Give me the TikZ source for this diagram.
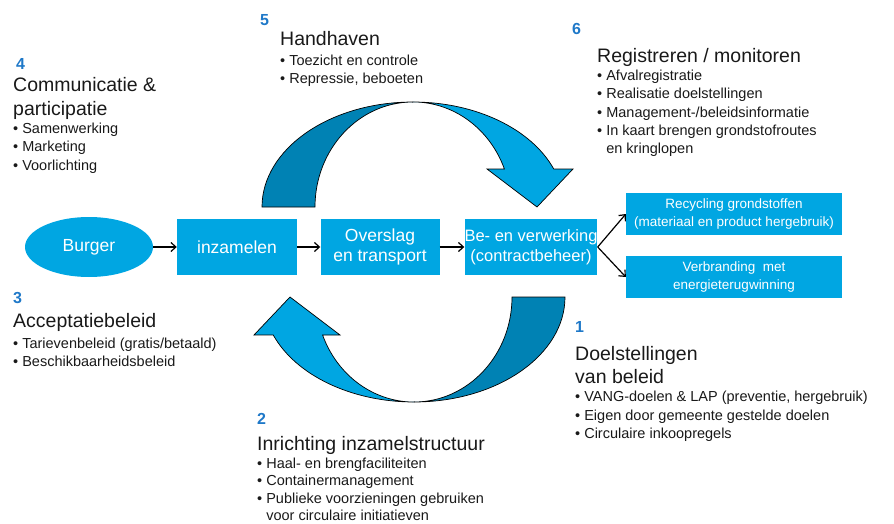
\documentclass[tikz,border=0pt]{standalone}
\usepackage{fontspec}
\setmainfont{Liberation Sans}
\usetikzlibrary{shapes.geometric,arrows.meta}

\definecolor{flowblue}{RGB}{0,166,226}
\definecolor{darkblue}{RGB}{0,130,180}
\definecolor{numblue}{RGB}{30,120,200}
\definecolor{textgray}{RGB}{25,25,25}

\newcommand{\headfont}{\fontsize{19.5}{23}\selectfont}
\newcommand{\listfont}{\fontsize{14.5}{18.3}\selectfont}

\tikzset{
    procbox/.style={fill=flowblue, text=white, inner sep=0pt, minimum height=56pt,
        align=center, font=\fontsize{17.5}{20}\selectfont},
    resultbox/.style={fill=flowblue, text=white, inner sep=0pt, minimum width=216pt,
        minimum height=42pt, align=center, font=\fontsize{13.5}{18}\selectfont},
    flowarrow/.style={-{Straight Barb[length=5pt,width=9pt]}, line width=1.2pt},
    stepnum/.style={anchor=base west, inner sep=0pt, text=numblue,
        font=\fontsize{16}{18}\selectfont\bfseries},
    infoblock/.style={anchor=north west, inner sep=0pt, align=left, text=textgray,
        font=\listfont},
    pics/bendarrow/.style={code={
        % 后半段（深色）
        \filldraw[fill=darkblue, draw=black, line width=0.7pt]
            (-151,0) arc[start angle=180, end angle=270, x radius=151, y radius=105]
            arc[start angle=270, end angle=180, x radius=98, y radius=105] -- cycle;
        % 前半段和箭头
        \filldraw[fill=flowblue, draw=black, line width=0.7pt]
            (0,-105) arc[start angle=270, end angle=338.8, x radius=151, y radius=105]
            -- (160,-38) -- (124,0) -- (74,-38) -- (91.4,-38)
            arc[start angle=338.8, end angle=270, x radius=98, y radius=105] -- cycle;
    }}
}

\begin{document}
    \begin{tikzpicture}[x=1pt, y=-1pt]
        \useasboundingbox (0,0) rectangle (894,524);
        % 两个弯箭头
        \pic at (413,207) {bendarrow};
        \pic[rotate=180] at (414,297) {bendarrow};
        % 流程
        \node[ellipse, fill=flowblue, text=white, inner sep=0pt, minimum width=128pt,
            minimum height=60pt, font=\fontsize{17.5}{20}\selectfont] (burger) at (89,247) {Burger};
        \node[procbox, minimum width=120pt] (inz) at (237,247) {inzamelen};
        \node[procbox, minimum width=119pt] (ovs) at (380,247) {Overslag\\en transport};
        \node[procbox, minimum width=131pt, font=\fontsize{16.5}{20}\selectfont] (bev) at (531,247)
            {Be- en verwerking\\(contractbeheer)};
        \node[resultbox] (rec) at (734,214) {Recycling grondstoffen\\(materiaal en product hergebruik)};
        \node[resultbox] (ver) at (734,277) {Verbranding\ \ met\\energieterugwinning};
        \draw[flowarrow] (burger) -- (inz);
        \draw[flowarrow] (inz) -- (ovs);
        \draw[flowarrow] (ovs) -- (bev);
        \draw[flowarrow] (bev.east) -- (rec.west);
        \draw[flowarrow] (bev.east) -- (ver.west);
        % 编号
        \node[stepnum] (num1) at (575,332) {1};
        \node[stepnum] (num2) at (257,424) {2};
        \node[stepnum] (num3) at (13,303) {3};
        \node[stepnum] (num4) at (16,70) {4};
        \node[stepnum] (num5) at (260,26) {5};
        \node[stepnum] (num6) at (572,35) {6};
        % 说明文字
        \node[infoblock] (blk1) at (575,346) {{\headfont Doelstellingen}\\[4.5pt]
            {\headfont van beleid}\\[0.5pt]
            \textbullet\ VANG-doelen \& LAP (preventie, hergebruik)\\
            \textbullet\ Eigen door gemeente gestelde doelen\\
            \textbullet\ Circulaire inkoopregels};
        \node[infoblock] (blk2) at (257,436) {{\headfont Inrichting inzamelstructuur}\\
            \textbullet\ Haal- en brengfaciliteiten\\[-1pt]
            \textbullet\ Containermanagement\\[-1pt]
            \textbullet\ Publieke voorzieningen gebruiken\\[-1.5pt]
            \phantom{\textbullet\ }voor circulaire initiatieven};
        \node[infoblock] (blk3) at (13,313) {{\headfont Acceptatiebeleid}\\[2.5pt]
            \textbullet\ Tarievenbeleid (gratis/betaald)\\
            \textbullet\ Beschikbaarheidsbeleid};
        \node[infoblock] (blk4) at (13,77) {{\headfont Communicatie \&}\\[5.5pt]
            {\headfont participatie}\\
            \textbullet\ Samenwerking\\
            \textbullet\ Marketing\\
            \textbullet\ Voorlichting};
        \node[infoblock] (blk5) at (280,31) {{\headfont Handhaven}\\[1.5pt]
            \textbullet\ Toezicht en controle\\
            \textbullet\ Repressie, beboeten};
        \node[infoblock] (blk6) at (597,48) {{\headfont Registreren / monitoren}\\
            \textbullet\ Afvalregistratie\\
            \textbullet\ Realisatie doelstellingen\\
            \textbullet\ Management-/beleidsinformatie\\
            \textbullet\ In kaart brengen grondstofroutes\\
            \phantom{\textbullet\ }en kringlopen};
    \end{tikzpicture}
\end{document}
